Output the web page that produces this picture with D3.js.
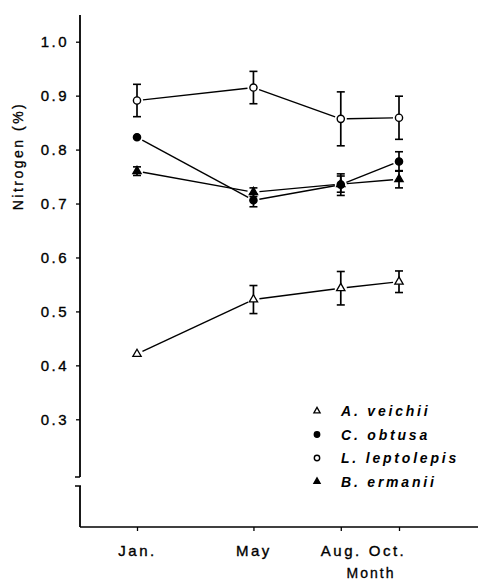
<!DOCTYPE html>
<html>
<head>
<meta charset="utf-8">
<script src="https://cdn.jsdelivr.net/npm/d3@7"></script>
<style>
  body { margin: 0; background: #fff; }
  svg { display: block; }
  .axis text { font-family: "Liberation Sans", Arial, sans-serif; font-size: 15px; letter-spacing: 2.5px; fill: #000; stroke: #000; stroke-width: 0.35px; }
  .axis line { stroke: #000; stroke-width: 1.3; }
  .label { fill: #000; stroke: #000; stroke-width: 0.3px; }
</style>
</head>
<body>
<div id="chart"></div>
<script>
// data
let months = [1, 5, 8, 10];
let monthLabels = ["Jan.", "May", "Aug.", "Oct."];
let yTicks = [0.3, 0.4, 0.5, 0.6, 0.7, 0.8, 0.9, 1.0];

let speciesNames = ["A. veichii", "C. obtusa", "L. leptolepis", "B. ermanii"];
let veichii = [0.421, 0.522, 0.543, 0.555];
let veichiiErr = [0, 0.026, 0.031, 0.020];
let obtusa = [0.823, 0.706, 0.735, 0.778];
let obtusaErr = [0, 0.012, 0.020, 0.018];
let leptolepis = [0.891, 0.915, 0.857, 0.859];
let leptolepisErr = [0.030, 0.030, 0.050, 0.040];
let ermanii = [0.760, 0.721, 0.736, 0.745];
let ermaniiErr = [0.008, 0.008, 0.015, 0.016];

(function () {
    let width = 484, height = 582;

    let svg = d3.select("#chart").append("svg")
        .attr("width", width)
        .attr("height", height);

    let x = d3.scaleLinear().domain([1, 10]).range([137, 399]);
    let y = d3.scaleLinear().domain([0.3, 1.0]).range([419.3, 41.7]);

    let axisX = 80, axisY = 527;

    // y axis
    let gy = svg.append("g")
        .attr("class", "axis")
        .attr("transform", "translate(" + axisX + ",0)")
        .call(d3.axisLeft(y).tickValues(yTicks).tickSize(4).tickSizeOuter(0).tickPadding(7)
            .tickFormat(d3.format(".1f")));
    gy.select(".domain").remove();

    // y axis line with break
    svg.append("line").attr("x1", axisX).attr("x2", axisX).attr("y1", 15).attr("y2", 477)
        .attr("stroke", "#000").attr("stroke-width", 1.8);
    svg.append("line").attr("x1", axisX - 5).attr("x2", axisX).attr("y1", 477).attr("y2", 477)
        .attr("stroke", "#000").attr("stroke-width", 1.5);
    svg.append("line").attr("x1", axisX - 5).attr("x2", axisX + 1).attr("y1", 486).attr("y2", 486)
        .attr("stroke", "#000").attr("stroke-width", 1.5);
    svg.append("line").attr("x1", axisX).attr("x2", axisX).attr("y1", 486).attr("y2", axisY)
        .attr("stroke", "#000").attr("stroke-width", 1.8);

    // x axis
    let gx = svg.append("g")
        .attr("class", "axis")
        .attr("transform", "translate(0," + axisY + ")")
        .call(d3.axisBottom(x).tickValues(months).tickSize(4).tickSizeOuter(0).tickPadding(14)
            .tickFormat(function (d, i) { return monthLabels[i]; }));
    gx.select(".domain").remove();
    gx.selectAll(".tick text").attr("dx", function (d, i) { return i === 3 ? -12 : 0; });

    svg.append("line").attr("x1", axisX).attr("x2", 478).attr("y1", axisY).attr("y2", axisY)
        .attr("stroke", "#000").attr("stroke-width", 1.5);

    // axis titles
    svg.append("text")
        .attr("class", "label")
        .attr("x", 371).attr("y", 578)
        .attr("text-anchor", "middle")
        .style("font", "14px 'Liberation Sans', Arial, sans-serif")
        .style("letter-spacing", "2px")
        .text("Month");

    svg.append("text")
        .attr("class", "label")
        .attr("transform", "translate(23,156) rotate(-90)")
        .attr("text-anchor", "middle")
        .style("font", "14px 'Liberation Sans', Arial, sans-serif")
        .style("letter-spacing", "2.5px")
        .text("Nitrogen (%)");

    let series = [
        { name: speciesNames[0], values: veichii, err: veichiiErr, shape: "triangle", fill: "#fff" },
        { name: speciesNames[1], values: obtusa, err: obtusaErr, shape: "circle", fill: "#000" },
        { name: speciesNames[2], values: leptolepis, err: leptolepisErr, shape: "circle", fill: "#fff" },
        { name: speciesNames[3], values: ermanii, err: ermaniiErr, shape: "triangle", fill: "#000" }
    ];

    let gap = 6;
    let plot = svg.append("g");

    series.forEach(function (s) {
        let pts = s.values.map(function (v, i) { return [x(months[i]), y(v)]; });

        // line segments that stop short of the markers
        for (let i = 0; i < pts.length - 1; i++) {
            let p0 = pts[i], p1 = pts[i + 1];
            let dx = p1[0] - p0[0], dy = p1[1] - p0[1];
            let len = Math.sqrt(dx * dx + dy * dy);
            let ux = dx / len, uy = dy / len;
            plot.append("line")
                .attr("x1", p0[0] + ux * gap).attr("y1", p0[1] + uy * gap)
                .attr("x2", p1[0] - ux * gap).attr("y2", p1[1] - uy * gap)
                .attr("stroke", "#000").attr("stroke-width", 1.4);
        }

        // error bars
        s.values.forEach(function (v, i) {
            let e = s.err[i];
            if (!e) return;
            let cx = x(months[i]);
            plot.append("line")
                .attr("x1", cx).attr("x2", cx).attr("y1", y(v + e)).attr("y2", y(v - e))
                .attr("stroke", "#000").attr("stroke-width", 1.7);
            [v + e, v - e].forEach(function (c) {
                plot.append("line")
                    .attr("x1", cx - 4).attr("x2", cx + 4).attr("y1", y(c)).attr("y2", y(c))
                    .attr("stroke", "#000").attr("stroke-width", 1.6);
            });
        });

        // markers
        s.values.forEach(function (v, i) {
            drawMarker(plot, s, x(months[i]), y(v), 1);
        });
    });

    function drawMarker(g, s, cx, cy, k) {
        if (s.shape === "circle") {
            g.append("circle")
                .attr("cx", cx).attr("cy", cy).attr("r", 3.6 * k)
                .attr("fill", s.fill).attr("stroke", "#000").attr("stroke-width", 1.4);
        } else {
            g.append("path")
                .attr("d", d3.symbol().type(d3.symbolTriangle).size(30 * k * k)())
                .attr("transform", "translate(" + cx + "," + cy + ")")
                .attr("fill", s.fill).attr("stroke", "#000").attr("stroke-width", 1.3);
        }
    }

    // legend
    let legend = svg.append("g");
    series.forEach(function (s, i) {
        let ly = 411 + i * 23.5;
        drawMarker(legend, s, 317, ly, 0.75);
        legend.append("text")
            .attr("x", 341).attr("y", ly + 5)
            .style("font", "italic bold 14px 'Liberation Sans', Arial, sans-serif")
            .style("letter-spacing", "2.8px")
            .text(s.name);
    });
})();
</script>
</body>
</html>
